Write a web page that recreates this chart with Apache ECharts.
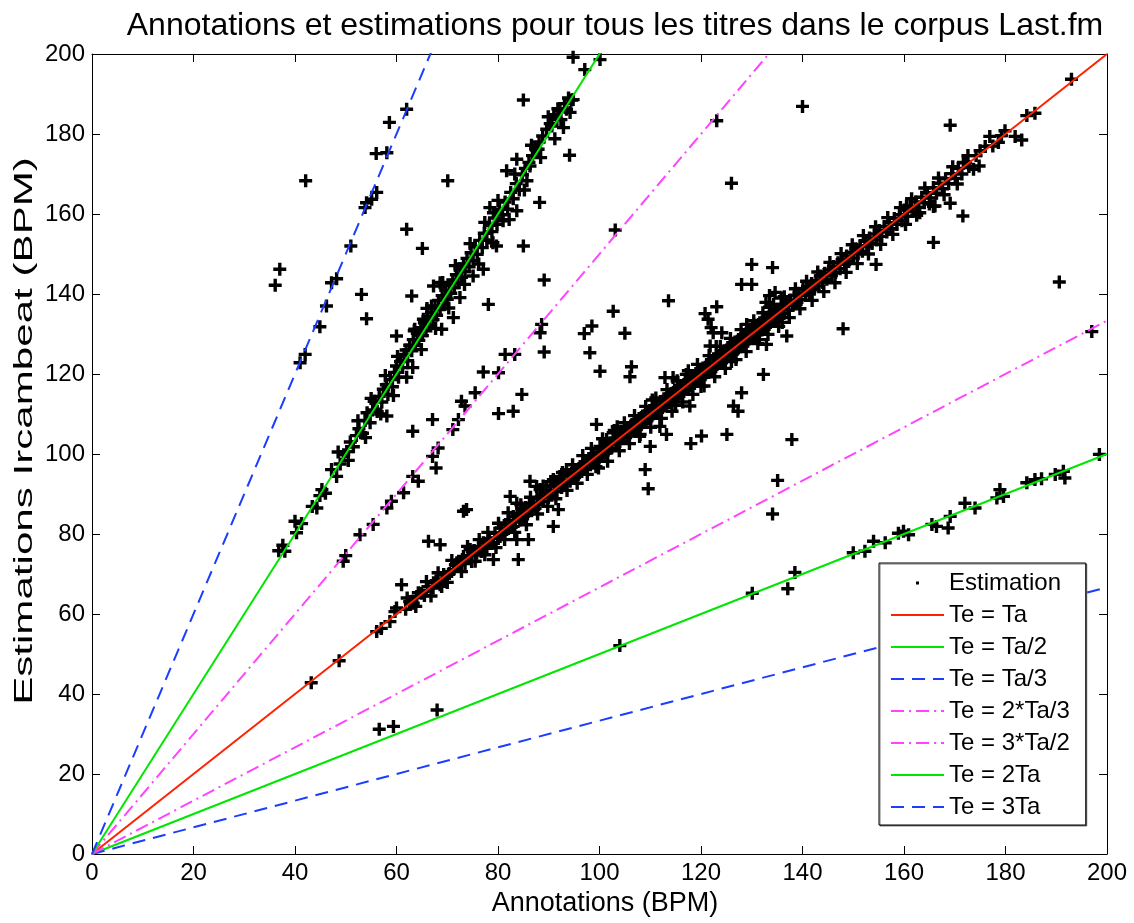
<!DOCTYPE html>
<html>
<head>
<meta charset="utf-8">
<script src="https://cdn.jsdelivr.net/npm/echarts@6/dist/echarts.min.js"></script>
<style>
  html, body { margin: 0; padding: 0; background: #ffffff; }
  #chart { width: 1134px; height: 923px; }
</style>
</head>
<body>
<div id="chart"></div>
<script>
// Tempo pairs [annotated BPM (Ta), estimated BPM (Te)], grouped by the tempo relation they fall on.

// Estimates agreeing with the annotation (Te ≈ Ta)
const tempoEqual = [
  [43.2,42.8],[48.7,48.3],[56.1,55.6],[57.0,56.4],[58.7,58.1],[59.7,60.6],[60.0,61.5],[61.8,61.2],[62.6,63.1],[63.3,62.7],
  [64.0,64.4],[64.3,65.3],[64.9,65.2],[65.5,64.6],[66.2,66.8],[67.2,66.5],[67.3,67.8],[67.8,68.3],[68.6,67.3],[68.9,66.9],
  [69.3,69.9],[69.9,69.4],[70.4,70.1],[71.2,71.1],[71.6,72.3],[71.9,72.8],[72.5,72.3],[73.0,73.6],[73.2,74.4],[73.5,72.6],
  [74.1,74.6],[74.5,76.1],[74.8,73.1],[75.3,75.9],[75.7,74.8],[75.8,75.3],[76.2,76.9],[76.7,75.6],[77.1,77.8],[77.5,76.4],
  [77.8,76.9],[78.3,78.9],[78.7,77.6],[79.1,77.7],[79.4,80.2],[79.9,79.0],[80.4,79.4],[80.6,81.5],[81.1,80.2],[81.5,82.4],
  [81.7,81.1],[82.2,83.3],[82.6,81.7],[83.0,81.9],[83.0,84.4],[83.4,83.0],[83.7,87.7],[83.9,85.1],[84.3,83.5],[84.7,85.9],
  [85.0,84.4],[85.4,86.6],[85.8,85.0],[86.2,87.5],[86.6,85.8],[87.0,87.7],[87.3,86.4],[87.7,88.9],[88.0,87.3],[88.3,91.1],
  [88.6,89.4],[89.0,88.2],[89.3,90.3],[89.6,91.9],[89.9,89.1],[90.3,90.9],[90.6,89.7],[90.9,93.6],[91.2,91.8],[91.6,90.6],
  [91.9,92.7],[92.2,94.4],[92.5,91.6],[92.9,93.3],[93.2,92.3],[93.5,96.1],[93.8,94.6],[94.2,93.2],[94.5,95.2],[94.8,95.3],
  [95.1,94.1],[95.5,96.0],[95.8,94.9],[96.2,96.9],[96.5,95.6],[96.9,97.6],[97.2,96.4],[97.5,97.8],[97.9,98.9],[98.2,97.3],
  [98.5,99.0],[98.8,99.4],[99.1,98.2],[99.5,100.3],[99.8,96.5],[99.9,99.0],[100.1,101.9],[100.4,99.6],[100.8,101.3],[101.1,100.2],
  [101.4,103.6],[101.7,101.0],[102.1,102.8],[102.4,101.5],[102.7,105.3],[103.0,103.6],[103.4,102.6],[103.5,106.8],[103.7,104.5],[104.0,103.1],
  [104.4,105.2],[104.7,104.0],[105.0,106.1],[105.4,104.5],[105.7,106.6],[106.1,105.3],[106.4,107.4],[106.8,106.0],[107.1,108.2],[107.5,106.6],
  [107.8,108.9],[108.0,104.9],[108.2,107.3],[108.5,109.5],[108.9,107.9],[109.2,110.3],[109.6,108.8],[109.9,110.9],[110.3,109.5],[110.4,113.5],
  [110.6,111.4],[111.0,110.1],[111.3,112.2],[111.7,110.8],[112.0,113.1],[112.4,111.6],[112.7,113.8],[113.1,112.1],[113.4,114.4],[113.8,112.9],
  [114.1,115.1],[114.5,113.6],[114.8,115.9],[115.0,112.2],[115.2,114.3],[115.5,116.6],[115.9,115.0],[116.2,117.1],[116.6,115.6],[116.9,118.0],
  [117.3,116.2],[117.5,120.8],[117.6,118.6],[118.0,117.0],[118.3,119.4],[118.7,117.6],[119.0,120.1],[119.4,118.3],[119.7,120.8],[120.0,116.9],
  [120.1,119.1],[120.4,121.5],[120.8,119.8],[121.1,122.4],[121.5,120.4],[121.8,122.9],[122.2,121.2],[122.5,123.8],[122.9,121.8],[123.0,126.9],
  [123.2,124.3],[123.6,122.6],[123.9,125.1],[124.3,123.2],[124.6,125.8],[125.0,124.0],[125.3,126.6],[125.7,124.7],[126.0,123.1],[126.0,127.2],
  [126.4,125.3],[126.7,128.0],[127.1,126.1],[127.4,128.6],[127.8,126.8],[128.1,129.4],[128.5,127.5],[128.8,130.0],[129.0,132.4],[129.2,128.2],
  [129.5,130.8],[129.9,128.9],[130.2,131.4],[130.6,129.6],[130.9,132.2],[131.3,130.3],[131.5,128.6],[131.6,132.8],[132.0,131.0],[132.3,133.6],
  [132.7,131.7],[133.0,134.2],[133.4,132.4],[133.5,136.7],[133.7,135.0],[134.1,133.1],[134.4,135.6],[134.8,133.8],[135.1,136.2],[135.5,134.4],
  [135.9,137.0],[136.0,132.9],[136.3,135.1],[136.8,137.7],[137.2,136.0],[137.6,138.5],[138.0,137.1],[138.4,139.6],[138.9,137.9],[139.3,140.2],
  [139.7,138.6],[140.1,141.1],[140.6,139.6],[141.0,141.8],[141.4,140.3],[141.8,142.6],[142.3,141.2],[142.7,143.4],[143.1,142.0],[143.5,144.5],
  [144.0,142.9],[144.4,145.2],[144.8,143.7],[145.2,146.1],[145.7,144.6],[146.1,146.9],[146.5,145.4],[147.0,147.8],[147.4,146.3],[147.8,148.6],
  [148.3,147.4],[148.7,149.5],[149.1,148.1],[149.6,150.4],[150.0,149.0],[150.5,151.3],[150.9,150.0],[151.4,152.1],[151.8,150.7],[152.3,153.2],
  [152.7,151.8],[153.2,154.0],[153.7,152.6],[154.2,155.0],[154.6,153.5],[155.1,155.9],[155.6,154.4],[156.1,156.9],[156.6,155.5],[157.1,157.8],
  [157.6,156.3],[158.1,158.9],[158.6,157.4],[159.1,159.8],[159.6,158.3],[160.1,161.0],[160.5,162.0],[160.7,159.4],[161.2,161.9],[161.8,160.6],
  [162.3,163.0],[162.9,161.7],[163.1,160.3],[163.5,164.2],[164.0,162.8],[164.6,165.3],[165.2,164.0],[165.8,166.6],[166.1,162.0],[166.4,165.2],
  [167.0,167.7],[167.6,166.3],[168.2,168.8],[168.8,167.6],[169.1,162.7],[169.4,170.1],[170.1,168.9],[170.7,171.4],[171.4,170.0],[171.6,159.5],
  [171.7,172.9],[172.1,172.8],[172.8,171.9],[173.7,171.2],[174.2,174.6],[175.0,175.8],[176.0,176.9],[176.9,179.4],[177.5,177.0],[178.6,177.9],
  [179.2,179.6],[179.9,180.8],[181.9,179.4],[183.2,178.5],[184.2,184.6],[185.8,185.2],[193.0,193.7]
];

// Looser estimates around Te ≈ Ta, widening the main band
const tempoEqualLoose = [
  [62.1,64.0],[63.8,61.9],[65.9,68.1],[66.8,64.5],[68.2,70.3],[70.0,67.9],[70.9,73.4],[72.8,70.6],[74.0,76.9],[75.5,73.2],
  [76.3,78.6],[77.4,74.8],[78.0,80.4],[79.6,76.6],[80.1,82.7],[81.3,78.6],[82.0,85.3],[83.3,80.4],[84.5,87.3],[85.6,82.3],
  [86.4,89.2],[87.8,85.0],[88.9,92.0],[89.8,86.9],[90.4,93.1],[91.4,88.8],[92.7,95.4],[93.6,90.9],[94.7,97.3],[95.6,92.7],
  [96.7,99.6],[97.6,94.9],[98.4,101.4],[99.3,96.8],[100.6,103.8],[101.6,98.2],[102.9,105.9],[103.9,100.8],[104.9,107.8],[105.9,102.6],
  [106.9,109.6],[107.9,104.4],[109.1,111.9],[110.1,106.7],[111.1,114.0],[112.2,108.9],[113.3,116.1],[114.3,110.7],[115.3,118.3],[116.4,113.0],
  [117.1,119.9],[118.4,114.9],[119.3,122.4],[120.6,117.0],[121.6,124.6],[122.7,119.3],[123.8,126.9],[124.8,121.4],[125.8,128.9],[126.9,123.6],
  [127.9,131.1],[128.9,125.6],[130.4,133.3],[131.2,127.6],[132.2,135.3],[133.2,129.9],[134.3,137.4],[135.3,131.9],[136.4,139.3],[137.4,134.1],
  [138.6,141.3],[139.5,136.3],[140.8,143.2],[141.9,138.4],[143.0,145.5],[144.2,140.6],[145.4,147.9],[146.4,142.8],[147.6,150.1],[148.6,145.4],
  [149.8,152.3],[150.8,147.6],[152.0,154.6],[153.0,150.0],[154.4,156.8],[155.4,152.4],[156.8,159.1],[157.8,154.9],[159.3,161.6],[160.3,157.4],
  [161.5,163.8],[162.5,159.7],[164.1,166.5],[165.0,162.5],[166.8,169.0],[167.9,164.8],[169.6,171.8],[170.5,167.5],[172.6,174.6],[174.8,172.0]
];

// Estimates at double the annotated tempo (Te ≈ 2Ta)
const tempoDouble = [
  [36.8,75.8],[37.6,77.2],[38.0,75.7],[40.0,83.2],[40.3,80.3],[41.3,82.6],[43.4,86.9],[44.3,86.5],[44.9,89.6],[45.3,91.1],
  [46.0,90.2],[47.2,96.1],[48.2,94.4],[48.9,97.5],[49.6,99.8],[50.2,100.6],[50.9,103.0],[51.5,101.8],[52.1,104.6],[52.6,106.3],
  [53.3,105.2],[53.8,108.4],[54.2,110.3],[54.8,107.8],[55.3,111.0],[55.6,113.2],[56.2,110.6],[56.6,114.4],[57.1,113.0],[57.4,116.2],
  [58.0,117.3],[58.1,109.5],[58.3,114.9],[58.8,118.6],[59.2,116.8],[59.6,120.4],[60.0,122.0],[60.0,129.5],[60.4,119.2],[60.8,123.1],
  [61.2,121.6],[61.5,124.9],[61.9,126.0],[62.2,123.3],[62.6,127.2],[63.0,125.8],[63.3,128.6],[63.6,131.2],[63.7,127.1],[64.1,130.2],
  [64.4,128.4],[64.8,131.6],[65.1,129.6],[65.3,133.7],[65.5,132.8],[65.8,130.8],[66.2,134.3],[66.5,132.2],[66.9,135.4],[66.9,137.0],
  [67.2,133.6],[67.3,142.0],[67.6,136.9],[67.9,134.7],[68.3,138.4],[68.6,136.2],[68.6,142.8],[68.9,131.2],[69.0,139.6],[69.3,137.3],
  [69.6,138.7],[69.7,140.9],[70.0,138.7],[70.4,142.2],[70.7,140.2],[71.1,143.5],[71.2,134.1],[71.4,141.6],[71.8,144.8],[72.1,142.8],
  [72.5,139.1],[72.5,146.3],[72.8,144.2],[73.2,147.5],[73.5,145.6],[73.9,148.9],[74.3,146.8],[74.7,150.3],[75.1,144.5],[75.1,148.3],
  [75.5,151.8],[75.9,149.9],[76.4,153.4],[76.9,151.6],[77.1,146.2],[77.3,155.2],[77.8,153.5],[78.3,157.2],[78.4,161.6],[78.8,155.6],
  [79.1,160.3],[79.3,159.0],[79.7,152.0],[79.8,157.4],[80.3,161.2],[80.9,159.8],[81.0,158.3],[81.4,163.0],[81.7,170.8],[81.9,161.2],
  [82.5,165.4],[83.0,163.8],[83.6,167.6],[83.7,160.8],[83.7,173.7],[84.2,166.0],[84.8,169.8],[85.4,171.4],[85.7,168.3],[86.1,172.9],
  [86.3,172.0],[86.8,174.6],[87.4,176.3],[87.9,176.2],[88.1,178.0],[88.8,179.5],[89.6,181.2],[90.3,182.6],[90.6,182.0],[91.0,184.8],
  [91.6,183.7],[91.8,186.3],[92.2,185.8],[92.4,183.6],[92.9,181.6],[93.1,187.6],[93.5,186.2],[93.9,189.0],[94.2,185.4],[94.5,188.5],
  [94.8,188.6],[94.8,199.2],[97.1,196.1],[100.1,198.6],
  [48.5,100.5],[50.5,98.4],[52.4,108.3],[53.9,104.1],[55.0,113.9],[56.9,110.0],[57.8,119.6],[59.4,114.6],[60.2,124.4],[62.0,119.2],
  [63.5,130.8],[64.9,126.1],[66.0,136.4],[67.7,131.4],[69.1,142.9],[70.3,136.5],[71.6,147.1],[73.4,142.4],[74.5,152.6],[76.2,147.5],
  [77.4,157.9],[79.0,152.8],[80.0,163.4],[82.2,158.6],[83.3,170.0],[85.2,166.0],[86.6,177.2],[88.4,174.1],[89.9,184.3],[91.2,178.8]
];

// Estimates at triple the annotated tempo (Te ≈ 3Ta)
const tempoTriple = [
  [41.0,122.8],[42.0,124.9],[44.9,131.8],[46.2,137.0],[47.2,142.8],[48.2,143.8],[51.0,152.0],[53.8,161.6],[54.1,162.8],[55.1,163.7],
  [56.1,165.4],[56.0,175.1],[58.1,175.3],[58.6,182.9],[62.0,186.2]
];

// Estimates at 3/2 of the annotated tempo
const tempoThreeHalves = [
  [49.5,73.2],[50.0,74.6],[52.8,79.8],[55.4,82.4],[58.1,86.5],[59.0,88.2],[61.4,90.3],[63.2,94.4],[64.3,93.2],[67.1,99.4],
  [67.8,96.5],[68.2,101.5],[71.1,106.1],[72.2,108.6],[72.8,113.2],[73.5,112.0],[75.5,115.3],[77.1,120.5],[80.1,120.3],[81.4,124.9],
  [83.3,124.9],[88.3,130.3],[88.6,132.4],[89.1,125.5],[103.1,156.0],[123.1,183.3]
];

// Estimates at half the annotated tempo (Te ≈ Ta/2)
const tempoHalf = [
  [104.0,52.1],[130.1,65.2],[137.1,66.3],[138.5,70.4],[150.0,75.3],[152.3,75.7],[154.0,78.2],[156.3,77.8],[158.9,80.2],[159.9,80.7],
  [160.9,79.8],[165.5,82.4],[166.4,81.9],[168.7,81.5],[169.1,84.4],[172.0,87.7],[174.0,86.5],[178.3,89.0],[178.9,91.1],[179.6,89.4],
  [184.2,92.8],[185.8,93.6],[187.1,93.8],[189.8,94.9],[191.4,95.7],[191.7,94.0],[198.5,99.9]
];

// Estimates off every simple tempo relation
const tempoOther = [
  [36.1,142.2],[37.0,146.2],[42.1,168.3],[53.1,139.9],[54.1,133.8],[62.0,156.2],[63.0,139.5],[65.1,151.4],[70.1,168.3],[63.2,121.6],
  [63.2,105.7],[67.1,108.6],[80.1,110.1],[83.0,110.7],[84.7,114.9],[78.1,137.4],[89.1,143.5],[85.0,152.0],[88.2,162.9],[85.0,188.5],
  [94.1,174.7],[97.0,130.1],[98.5,132.0],[98.1,125.3],[100.1,120.7],[99.4,107.4],[105.0,130.2],[106.3,121.8],[106.0,119.3],[109.0,96.1],
  [109.6,91.3],[110.0,101.9],[111.9,106.9],[113.2,104.9],[117.8,112.0],[118.0,102.6],[120.1,104.5],[125.1,104.9],[126.4,112.0],[127.3,110.7],
  [128.0,115.3],[132.3,119.9],[137.9,103.6],[135.1,93.4],[134.1,85.0],[128.0,142.4],[130.0,142.4],[130.0,147.4],[134.1,146.6],[123.1,136.8],
  [121.4,133.7],[122.0,131.6],[120.8,135.1],[122.4,130.3],[124.1,130.3],[121.8,127.0],[112.9,119.1],[114.5,119.1],[113.6,138.3],[102.7,135.7],
  [132.8,137.9],[133.5,139.6],[134.6,140.4],[135.8,139.0],[136.6,137.3],[136.9,129.5],[132.9,127.4],[140.0,186.9],[126.0,167.7],[148.0,131.3],
  [154.5,147.4],[165.8,152.9],[165.8,161.9],[169.1,182.2],[190.6,143.0],[197.0,130.6],[73.2,85.7],[73.8,86.1],[66.3,78.2],[68.6,77.3],
  [61.0,67.3],[83.7,78.6],[86.0,78.6],[84.0,73.6],[79.1,73.6],[90.9,81.9],[91.9,86.1],[82.4,89.4],[87.6,91.9],[86.3,93.2],
  [68.0,36.0],[56.6,31.2],[59.4,31.9]
];

// Reference relations Te = k * Ta drawn over the scatter
const relationNames = ['Te = Ta', 'Te = Ta/2', 'Te = Ta/3', 'Te = 2*Ta/3', 'Te = 3*Ta/2', 'Te = 2Ta', 'Te = 3Ta'];
const relationFactors = [1, 1 / 2, 1 / 3, 2 / 3, 3 / 2, 2, 3];
const relationColors = ['#ff2200', '#00e600', '#1a3dff', '#ff44ff', '#ff44ff', '#00e600', '#1a3dff'];
const relationDashes = ['solid', 'solid', [13, 8], [13, 5, 2, 5], [13, 5, 2, 5], 'solid', [13, 8]];

const axisTicks = [0, 20, 40, 60, 80, 100, 120, 140, 160, 180, 200];

const FONT = 'Liberation Sans';
const chart = echarts.init(document.getElementById('chart'), null, { renderer: 'canvas' });

const estimations = [].concat(tempoEqual, tempoEqualLoose, tempoDouble, tempoTriple, tempoThreeHalves, tempoHalf, tempoOther);

// "+" marker drawn as a filled cross
const plusSymbol = 'path://M4.8,0H8.2V4.8H13V8.2H8.2V13H4.8V8.2H0V4.8H4.8Z';
// legend icon: a small dot centred in the icon box
const dotIcon = 'path://M0,0M53,0M53,14M0,14M25,5.5h3v3h-3z';

function axisBase(position, showLabels) {
  return {
    type: 'value',
    position: position,
    min: axisTicks[0],
    max: axisTicks[axisTicks.length - 1],
    interval: axisTicks[1] - axisTicks[0],
    axisLine: { show: true, onZero: false, lineStyle: { color: '#000', width: 1 } },
    axisTick: { show: true, inside: true, length: 8, lineStyle: { color: '#000', width: 1 } },
    axisLabel: { show: showLabels, color: '#000', fontSize: 24, fontFamily: FONT, margin: 7 },
    splitLine: { show: false },
    minorTick: { show: false }
  };
}

const lineSeries = relationNames.map(function (name, i) {
  const k = relationFactors[i];
  const lo = axisTicks[0], hi = axisTicks[axisTicks.length - 1];
  return {
    name: name,
    type: 'line',
    data: [[lo, lo * k], [hi, hi * k]],
    symbol: 'none',
    clip: true,
    z: 3,
    lineStyle: { color: relationColors[i], width: 2, type: relationDashes[i] },
    itemStyle: { color: relationColors[i] },
    emphasis: { disabled: true }
  };
});

const hiddenMarker = { color: 'rgba(0,0,0,0)', borderWidth: 0, opacity: 0 };

chart.setOption({
  animation: false,
  backgroundColor: '#ffffff',
  grid: { left: 92, right: 27, top: 54, bottom: 69, containLabel: false },
  xAxis: [axisBase('bottom', true), axisBase('top', false)],
  yAxis: [axisBase('left', true), axisBase('right', false)],
  legend: {
    orient: 'vertical',
    left: 879,
    top: 563,
    padding: [8, 16, 6, 11],
    itemWidth: 53,
    itemHeight: 14,
    itemGap: 8,
    backgroundColor: '#ffffff',
    borderColor: '#000000',
    borderWidth: 1,
    shadowColor: 'rgba(0,0,0,0.5)',
    shadowOffsetX: 1,
    shadowOffsetY: 1,
    shadowBlur: 0,
    selectedMode: false,
    textStyle: { color: '#000', fontSize: 24, fontFamily: FONT },
    data: [{ name: 'Estimation', icon: dotIcon }].concat(relationNames.map(function (n) {
      return { name: n, itemStyle: hiddenMarker };
    }))
  },
  graphic: [
    {
      type: 'text', x: 615, y: 26, silent: true,
      style: { text: 'Annotations et estimations pour tous les titres dans le corpus Last.fm', fontSize: 32, fontFamily: FONT, fill: '#000', align: 'center', verticalAlign: 'middle' }
    },
    {
      type: 'text', x: 605, y: 904, silent: true,
      style: { text: 'Annotations (BPM)', fontSize: 27, fontFamily: FONT, fill: '#000', align: 'center', verticalAlign: 'middle' }
    },
    {
      type: 'text', x: 25, y: 431, rotation: Math.PI / 2, scaleX: 1.62, silent: true,
      style: { text: 'Estimations Ircambeat (BPM)', fontSize: 26, fontFamily: FONT, fill: '#000', align: 'center', verticalAlign: 'middle' }
    }
  ],
  series: [
    {
      name: 'Estimation',
      type: 'scatter',
      data: estimations,
      symbol: plusSymbol,
      symbolSize: 13,
      itemStyle: { color: '#000000', opacity: 1 },
      z: 2,
      emphasis: { disabled: true }
    }
  ].concat(lineSeries)
});
</script>
</body>
</html>
